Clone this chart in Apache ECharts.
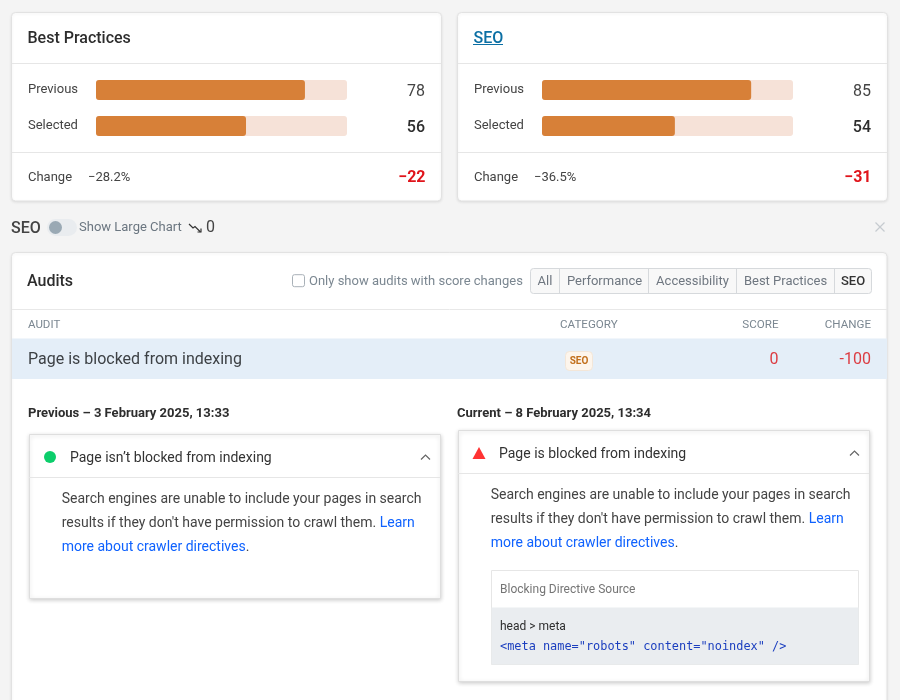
<!DOCTYPE html>
<html>
<head>
<meta charset="utf-8">
<style>
  html, body { margin: 0; padding: 0; background: #f4f4f4; }
  #main { width: 900px; height: 700px; }
</style>
<script src="https://cdn.jsdelivr.net/npm/echarts@6/dist/echarts.min.js"></script>
</head>
<body>
<div id="main"></div>
<script>
const rowNames = ['Previous', 'Selected'];
const bestPracticesScores = [78, 56];
const seoScores = [85, 54];
// the bars in the picture do not run on a 0-100 scale, each card has its own
const bestPracticesAxisMax = 93.7;
const seoAxisMax = 102;
const filterTabs = ['All', 'Performance', 'Accessibility', 'Best Practices', 'SEO'];
const tabDividers = [559.5, 648.5, 736.5, 834.5];
const tabCentres = [545, 604.5, 692.5, 785.5, 853];
const tableHeads = ['CATEGORY', 'SCORE', 'CHANGE'];

const FONT = 'Roboto, sans-serif';

function text(x, y, str, size, color, opts) {
  opts = opts || {};
  return {
    type: 'text', x: x, y: y + 2, z: opts.z || 5, silent: true,
    style: {
      text: str, fill: color, align: opts.align || 'left', verticalAlign: 'middle',
      font: (opts.weight || 400) + ' ' + size + 'px ' + (opts.family || FONT),
      rich: opts.rich
    }
  };
}

function box(x, y, w, h, fill, opts) {
  opts = opts || {};
  return {
    type: 'rect', z: opts.z || 1, silent: true,
    shape: { x: x, y: y, width: w, height: h, r: opts.r || 0 },
    style: {
      fill: fill, stroke: opts.stroke || null, lineWidth: opts.stroke ? 1 : 0,
      shadowBlur: opts.blur || 0, shadowColor: opts.shadow || 'transparent', shadowOffsetY: opts.offY || 0
    }
  };
}

function hline(x1, x2, y, color) {
  return { type: 'line', z: 2, silent: true, shape: { x1: x1, y1: y, x2: x2, y2: y }, style: { stroke: color || '#e6e6e6', lineWidth: 1 } };
}

function vline(x, y1, y2, color) {
  return { type: 'line', z: 3, silent: true, shape: { x1: x, y1: y1, x2: x, y2: y2 }, style: { stroke: color, lineWidth: 1 } };
}

function path(points, color, width) {
  return { type: 'polyline', z: 5, silent: true, shape: { points: points }, style: { stroke: color, lineWidth: width, fill: null } };
}

function scoreCard(x, title, pct, delta, linked) {
  const out = [
    box(x - 0.5, 12.5, 430, 188.5, '#fff', { r: 4, stroke: '#e2e2e2', blur: 3, shadow: 'rgba(0,0,0,0.08)', offY: 1 }),
    hline(x, x + 429, 63.5),
    hline(x, x + 429, 152.5),
    text(x + 15.5, 37, title, 16, linked ? '#0b6fa4' : '#2d2d2d', { weight: 500 }),
    text(x + 16, 175.5, 'Change', 13, '#444'),
    text(x + 76, 175.5, pct, 13, '#444'),
    text(x + 413.5, 175.5, delta, 16, '#e0141b', { weight: 700, align: 'right' })
  ];
  if (linked) out.push(hline(x + 15, x + 45, 44.5, '#0b6fa4'));
  return out;
}

function detailBox(x, y, h, icon, title) {
  const w = 411;
  const textX = x + 32.7;
  return [
    box(x + 0.5, y - 0.5, w, h, '#fff', { stroke: '#dedede', blur: 4, shadow: 'rgba(0,0,0,0.18)', offY: 1, z: 2 }),
    hline(x, x + w, y + 42.5),
    icon,
    text(x + 41, y + 21.5, title, 14, '#333'),
    path([[x + 392, y + 24.5], [x + 396.5, y + 20], [x + 401, y + 24.5]], '#666', 1.2),
    text(textX, y + 62.5, 'Search engines are unable to include your pages in search', 14, '#444'),
    text(textX, y + 86.5, "{a|results if they don't have permission to crawl them. }{b|Learn}", 14, '#444', {
      rich: { a: { fill: '#444', font: '400 14px ' + FONT }, b: { fill: '#0f62fe', font: '400 14px ' + FONT } }
    }),
    text(textX, y + 110.5, '{b|more about crawler directives}{a|.}', 14, '#444', {
      rich: { a: { fill: '#444', font: '400 14px ' + FONT }, b: { fill: '#0f62fe', font: '400 14px ' + FONT } }
    })
  ];
}

const graphics = [].concat(
  scoreCard(12, 'Best Practices', '−28.2%', '−22', false),
  scoreCard(458, 'SEO', '−36.5%', '−31', true),
  [
    // toolbar
    text(11, 226.5, 'SEO', 16, '#444', { weight: 500 }),
    box(47, 219, 30, 17, '#e9ecef', { r: 8.5 }),
    { type: 'circle', z: 3, silent: true, shape: { cx: 55.5, cy: 227.5, r: 6.5 }, style: { fill: '#9aa9b4' } },
    text(79, 226, 'Show Large Chart', 13, '#6b7680'),
    path([[189, 224], [193, 228], [195, 226.5], [200.5, 232]], '#333', 1.2),
    path([[197.5, 232], [201, 232], [201, 228.5]], '#333', 1.2),
    text(206, 226, '0', 16, '#444'),
    path([[875.5, 222.5], [884.5, 231.5]], '#c6cbd0', 1.3),
    path([[884.5, 222.5], [875.5, 231.5]], '#c6cbd0', 1.3),

    // audits card
    box(11.5, 252.5, 875.5, 460, '#fff', { r: 4, stroke: '#e2e2e2', blur: 3, shadow: 'rgba(0,0,0,0.08)', offY: 1 }),
    text(27, 280, 'Audits', 16, '#2d2d2d', { weight: 500 }),
    box(292.5, 274.7, 12, 12, '#fff', { r: 2, stroke: '#a9b1b8', z: 3 }),
    text(309, 280, 'Only show audits with score changes', 13, '#7b8791'),
    box(530.5, 268.5, 341, 25, '#f8f8f8', { r: 3, stroke: '#d6d9dc', z: 2 }),
    hline(12, 887, 309.5, '#e8e8e8'),
    text(28, 323.5, 'AUDIT', 11.5, '#7b8791'),
    text(560, 323.5, tableHeads[0], 11.6, '#7b8791'),
    text(778.5, 323.5, tableHeads[1], 11.6, '#7b8791', { align: 'right' }),
    text(871, 323.5, tableHeads[2], 11.6, '#7b8791', { align: 'right' }),
    box(12, 338.5, 875, 40.5, '#e4eef8'),
    text(28, 357.5, 'Page is blocked from indexing', 16, '#3d4145'),
    box(565.5, 351.5, 27, 19, '#fdf5ec', { r: 4, stroke: '#f3e6d8', z: 3 }),
    text(579, 359.5, 'SEO', 10, '#c2701d', { weight: 700, align: 'center' }),
    text(778.5, 357.5, '0', 16, '#dc3c42', { align: 'right' }),
    text(871, 357.5, '-100', 16, '#dc3c42', { align: 'right' }),
    text(28, 411.5, 'Previous – 3 February 2025, 13:33', 13, '#2d2d2d', { weight: 700 }),
    text(457, 411.5, 'Current – 8 February 2025, 13:34', 13, '#2d2d2d', { weight: 700 })
  ],
  tabDividers.map(function (x) { return vline(x, 269, 293, '#d6d9dc'); }),
  filterTabs.map(function (t, i) {
    const active = i === filterTabs.length - 1;
    return text(tabCentres[i], 280, t, 13, active ? '#333' : '#6f7780', { align: 'center', weight: active ? 500 : 400 });
  }),
  detailBox(29, 435, 164,
    { type: 'circle', z: 5, silent: true, shape: { cx: 50, cy: 457, r: 6 }, style: { fill: '#0cce6b' } },
    'Page isn’t blocked from indexing'),
  detailBox(458, 431, 251,
    { type: 'polygon', z: 5, silent: true, shape: { points: [[479, 447], [485.5, 459], [472.5, 459]] }, style: { fill: '#ff3333' } },
    'Page is blocked from indexing'),
  [
    // directive table in the current box
    box(491.5, 570.5, 367, 94, '#fff', { stroke: '#e6e6e6', z: 3 }),
    box(491.5, 607.5, 367, 57, '#eaedf0', { z: 4 }),
    text(500, 588, 'Blocking Directive Source', 12, '#757575'),
    text(500, 625, 'head > meta', 12, '#2d2d2d'),
    text(500, 645, '<meta name="robots" content="noindex" />', 11.9, '#1c3fbf', { family: '"DejaVu Sans Mono", monospace' })
  ]
);

function cardAxes(gridIndex, axisMax, scores) {
  const side = { type: 'category', gridIndex: gridIndex, inverse: true, z: 6, axisLine: { show: false }, axisTick: { show: false } };
  return {
    x: { type: 'value', gridIndex: gridIndex, min: 0, max: axisMax, show: false },
    y: [
      Object.assign({}, side, {
        data: rowNames,
        axisLabel: { align: 'left', margin: 68, color: '#444', fontSize: 13, fontFamily: FONT, lineHeight: 15, padding: [4, 0, 0, 0], verticalAlign: 'middle' }
      }),
      Object.assign({}, side, {
        position: 'right',
        data: scores.map(String),
        axisLabel: {
          align: 'right', margin: 78, fontSize: 16, fontFamily: FONT, color: '#444', lineHeight: 18, padding: [4, 0, 0, 0], verticalAlign: 'middle',
          formatter: function (v, i) { return i === 1 ? '{sel|' + v + '}' : v; },
          rich: { sel: { fontSize: 16, fontWeight: 500, color: '#2d2d2d', fontFamily: FONT, lineHeight: 18 } }
        }
      })
    ]
  };
}

function barSeries(axisIndex, scores) {
  return {
    type: 'bar', xAxisIndex: axisIndex, yAxisIndex: axisIndex * 2,
    data: scores, barWidth: 20, silent: true, z: 4,
    itemStyle: { color: '#d78038', borderRadius: 3 },
    showBackground: true,
    backgroundStyle: { color: '#f6e2d8', borderRadius: 3 }
  };
}

const left = cardAxes(0, bestPracticesAxisMax, bestPracticesScores);
const right = cardAxes(1, seoAxisMax, seoScores);

const chart = echarts.init(document.getElementById('main'));
chart.setOption({
  animation: false,
  backgroundColor: '#f4f4f4',
  textStyle: { fontFamily: FONT },
  grid: [
    { left: 96, top: 72, width: 251, height: 72 },
    { left: 542, top: 72, width: 251, height: 72 }
  ],
  xAxis: [left.x, right.x],
  yAxis: left.y.concat(right.y),
  series: [barSeries(0, bestPracticesScores), barSeries(1, seoScores)],
  graphic: { elements: graphics }
});
</script>
</body>
</html>
